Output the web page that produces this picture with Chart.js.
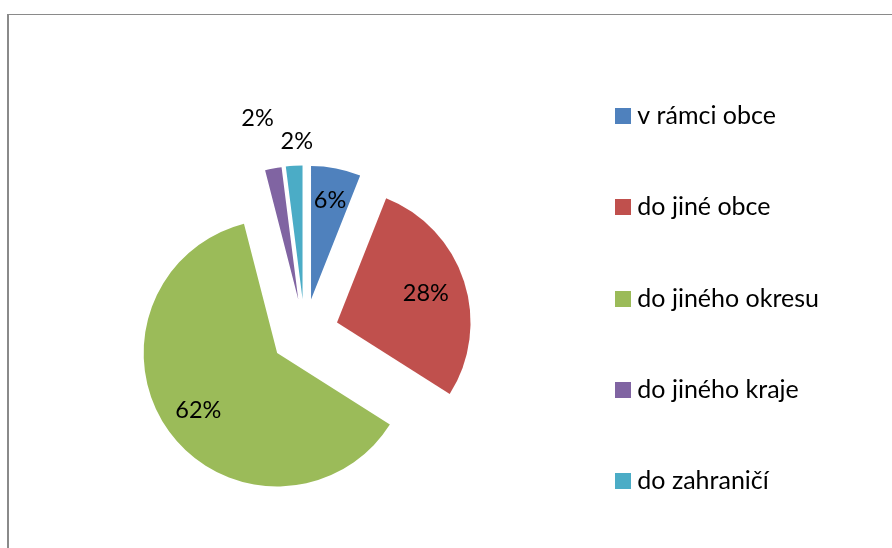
<!DOCTYPE html>
<html lang="cs">
<head>
    <meta charset="UTF-8">
    <title>Pie chart</title>
    <script src="https://cdn.jsdelivr.net/npm/chart.js"></script>
    <style>
        html, body { margin: 0; padding: 0; overflow: hidden; background: #fff; }
        .frame {
            position: absolute; left: 7px; top: 14px; right: 0; bottom: 0;
            border-left: 2px solid #8a8a8a; border-top: 1px solid #8a8a8a;
        }
        .wrap { position: absolute; left: 0; top: 0; width: 892px; height: 597px; }
    </style>
</head>
<body>
    <div class="frame"></div>
    <div class="wrap"><canvas id="pie"></canvas></div>

    <script>
        const categories = ['v rámci obce', 'do jiné obce', 'do jiného okresu', 'do jiného kraje', 'do zahraničí'];
        const shares = [6, 28, 62, 2, 2];
        const colors = ['#4F81BD', '#C0504D', '#9BBB59', '#8064A2', '#4BACC6'];

        // label distance from the slice tip (fraction of radius) and a small turn in degrees
        const labelDist = [0.76, 0.70, 0.73, 1.39, 1.18];
        const labelTurn = [0, 0, 0, -1.9, 1.5];
        const explode = 34;

        // small square used as legend marker, so the gap to the text stays narrow
        function swatch(color) {
            const c = document.createElement('canvas');
            c.width = 16;
            c.height = 16;
            const g = c.getContext('2d');
            g.fillStyle = color;
            g.fillRect(0, 0, 16, 16);
            return c;
        }

        // pull every slice out along its middle angle
        const explodeSlices = {
            id: 'explodeSlices',
            afterDatasetUpdate(chart, args) {
                args.meta.data.forEach(arc => {
                    const mid = (arc.startAngle + arc.endAngle) / 2;
                    arc.x += Math.cos(mid) * explode;
                    arc.y += Math.sin(mid) * explode;
                });
            }
        };

        const pctLabels = {
            id: 'pctLabels',
            afterDatasetsDraw(chart) {
                const ctx = chart.ctx;
                const meta = chart.getDatasetMeta(0);
                const total = shares.reduce((a, b) => a + b, 0);
                ctx.save();
                ctx.font = '23.5px Lato';
                ctx.fillStyle = '#000';
                ctx.textAlign = 'center';
                ctx.textBaseline = 'middle';
                meta.data.forEach((arc, i) => {
                    const mid = (arc.startAngle + arc.endAngle) / 2 + labelTurn[i] * Math.PI / 180;
                    const r = labelDist[i] * arc.outerRadius;
                    const txt = Math.round(shares[i] / total * 100) + '%';
                    ctx.fillText(txt, arc.x + Math.cos(mid) * r, arc.y + Math.sin(mid) * r);
                });
                ctx.restore();
            }
        };

        new Chart(document.getElementById('pie'), {
            type: 'pie',
            data: {
                labels: categories,
                datasets: [{
                    data: shares,
                    backgroundColor: colors,
                    borderWidth: 0,
                    radius: 133.5,
                    clip: false
                }]
            },
            options: {
                responsive: true,
                maintainAspectRatio: false,
                animation: false,
                layout: { padding: { left: 54.75, right: 63, top: 0, bottom: 0 } },
                plugins: {
                    title: {
                        display: true,
                        text: '',
                        font: { size: 10, lineHeight: 1 },
                        padding: { top: 0, bottom: 59 }
                    },
                    legend: {
                        position: 'right',
                        align: 'center',
                        labels: {
                            usePointStyle: true,
                            pointStyleWidth: 4,
                            boxHeight: 16,
                            padding: 66.25,
                            color: '#000',
                            font: { family: 'Lato', size: 25 },
                            generateLabels(chart) {
                                return categories.map((label, i) => ({
                                    text: label,
                                    fillStyle: colors[i],
                                    strokeStyle: colors[i],
                                    lineWidth: 0,
                                    fontColor: '#000',
                                    pointStyle: swatch(colors[i]),
                                    hidden: !chart.getDataVisibility(i),
                                    index: i
                                }));
                            }
                        }
                    },
                    tooltip: { enabled: false }
                }
            },
            plugins: [explodeSlices, pctLabels]
        });
    </script>
</body>
</html>
